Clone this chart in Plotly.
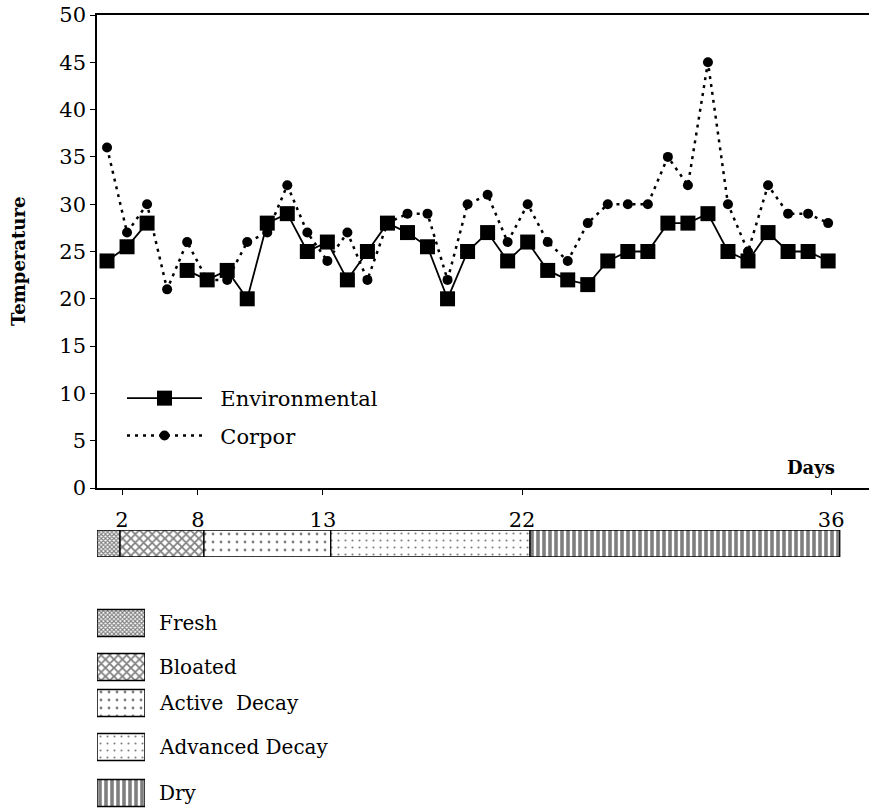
import plotly.graph_objects as go

# ---------------- data ----------------
sample = list(range(1, 38))
environmental = [24, 25.5, 28, None, 23, 22, 23, 20, 28, 29, 25, 26, 22,
                 25, 28, 27, 25.5, 20, 25, 27, 24, 26, 23, 22, 21.5,
                 24, 25, 25, 28, 28, 29, 25, 24, 27, 25, 25, 24]
corpor = [36, 27, 30, 21, 26, 22, 22, 26, 27, 32, 27, 24, 27,
          22, 28, 29, 29, 22, 30, 31, 26, 30, 26, 24, 28,
          30, 30, 30, 35, 32, 45, 30, 25, 32, 29, 29, 28]

# day ticks (position on the sample axis) and their labels
day_tick_pos = [1.75, 5.54, 11.78, 21.72, 37.15]
day_tick_labels = ["2", "8", "13", "22", "36"]

# decomposition stages (start / end on the sample axis)
stage_names = ["Fresh", "Bloated", "Active\u00a0 Decay", "Advanced Decay", "Dry"]
stage_start = [0.5, 1.65, 5.84, 12.17, 22.12]
stage_end = [1.65, 5.84, 12.17, 22.12, 37.58]

# ---------------- styles ----------------
SERIF = "DejaVu Serif"
patterns = [
    dict(shape="x", size=3, solidity=0.6, fgcolor="black", bgcolor="white"),
    dict(shape="x", size=6, solidity=0.5, fgcolor="black", bgcolor="white"),
    dict(shape=".", size=8, solidity=0.1, fgcolor="black", bgcolor="white"),
    dict(shape=".", size=7, solidity=0.07, fgcolor="black", bgcolor="white"),
    dict(shape="|", size=6, solidity=0.6, fgcolor="black", bgcolor="white"),
]
legend_box_cy = [623, 667, 703, 747, 793]

W, H = 869, 811
fig = go.Figure()

fig.add_trace(go.Scatter(
    x=sample, y=environmental, name="\u00a0\u00a0Environmental",
    mode="lines+markers",
    line=dict(color="black", width=1.8),
    marker=dict(symbol="square", size=15, color="black"),
    connectgaps=False, legendgroup="a", xaxis="x", yaxis="y"))
fig.add_trace(go.Scatter(
    x=sample, y=corpor, name="\u00a0\u00a0Corpor", mode="lines+markers",
    line=dict(color="black", width=2.5, dash="3px,5px"),
    marker=dict(symbol="circle", size=10, color="black"),
    legendgroup="b", xaxis="x", yaxis="y"))

for i, nm in enumerate(stage_names):
    fig.add_trace(go.Bar(
        y=[0], x=[stage_end[i] - stage_start[i]], base=[stage_start[i]],
        orientation="h", width=1, showlegend=False,
        marker=dict(color="white", pattern=patterns[i],
                    line=dict(color="black", width=1.3)),
        xaxis="x2", yaxis="y2", hoverinfo="skip"))
    fig.add_trace(go.Bar(
        y=[legend_box_cy[i]], x=[1], base=[0], orientation="h", width=27,
        showlegend=False,
        marker=dict(color="white", pattern=patterns[i],
                    line=dict(color="black", width=1.5)),
        xaxis="x3", yaxis="y3", hoverinfo="skip"))

annotations = []
for i, nm in enumerate(stage_names):
    annotations.append(dict(
        text=nm, x=157 / W, y=1 - legend_box_cy[i] / H, xref="paper", yref="paper",
        xanchor="left", yanchor="middle", showarrow=False,
        font=dict(family=SERIF, size=20, color="black")))
annotations.append(dict(
    text="<b>Days</b>", x=837 / W, y=1 - 468 / H, xref="paper", yref="paper",
    xanchor="right", yanchor="middle", showarrow=False,
    font=dict(family=SERIF, size=18, color="black")))
annotations.append(dict(
    text="<b>Temperature</b>", x=18 / W, y=1 - 262 / H, xref="paper", yref="paper",
    xanchor="center", yanchor="middle", textangle=-90, showarrow=False,
    font=dict(family=SERIF, size=18, color="black")))

fig.update_layout(
    width=W, height=H, margin=dict(l=0, r=0, t=0, b=0, autoexpand=False),
    paper_bgcolor="white", plot_bgcolor="white",
    barmode="overlay", showlegend=True,
    font=dict(family=SERIF, size=21, color="black"),
    xaxis=dict(domain=[97 / W, 1], range=[0.5, 39.04], showgrid=False, zeroline=False,
               automargin=False,
               showline=True, linecolor="black", linewidth=1.5, mirror=True,
               ticks="outside", ticklen=5, tickcolor="black",
               tickvals=day_tick_pos, ticktext=day_tick_labels,
               ticklabelstandoff=7,
               tickfont=dict(family=SERIF, size=21)),
    yaxis=dict(domain=[1 - 488 / H, 1 - 15 / H], range=[0, 50], dtick=5,
               automargin=False,
               showgrid=False, zeroline=False, showline=True, linecolor="black",
               linewidth=1.5, ticks="outside", ticklen=5, tickcolor="black",
               tickfont=dict(family=SERIF, size=21)),
    xaxis2=dict(domain=[97 / W, 1], range=[0.5, 39.04], visible=False, automargin=False),
    yaxis2=dict(domain=[1 - 557 / H, 1 - 530 / H], range=[-0.5, 0.5], visible=False,
                automargin=False),
    xaxis3=dict(domain=[97 / W, 145 / W], range=[0, 1], visible=False, automargin=False),
    yaxis3=dict(domain=[0, 1 - 600 / H], range=[811, 600], visible=False,
                automargin=False),
    legend=dict(x=122 / W, y=1 - 378 / H, xanchor="left", yanchor="top",
                bgcolor="rgba(0,0,0,0)", itemwidth=75, tracegroupgap=7,
                traceorder="grouped",
                font=dict(family=SERIF, size=21, color="black")),
    annotations=annotations,
)

fig.write_html("out.html", config={"displayModeBar": False},
               post_script="document.body.style.margin='0';document.body.style.overflow='hidden';")
